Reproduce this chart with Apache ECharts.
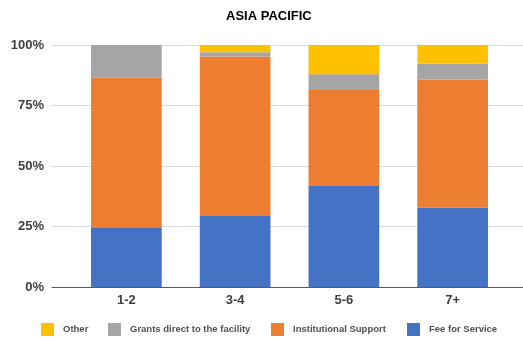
<!DOCTYPE html>
<html>
<head>
<meta charset="utf-8">
<script src="https://cdn.jsdelivr.net/npm/echarts@6/dist/echarts.min.js"></script>
<style>
  html, body { margin: 0; padding: 0; background: #fff; }
  #chart { width: 523px; height: 341px; }
</style>
</head>
<body>
<div id="chart"></div>
<script>
// Funding source share by facility age group
const categories = ['1-2', '3-4', '5-6', '7+'];
const feeForService = [24.7, 29.3, 41.7, 32.9];
const institutionalSupport = [61.8, 65.9, 39.7, 52.8];
const grantsDirect = [13.5, 1.8, 6.5, 6.7];
const other = [0, 3.0, 12.1, 7.6];
const yTicks = [0, 25, 50, 75, 100];

const FONT = '"Liberation Sans", Arial, sans-serif';
const TEXT = '#404040';

const chart = echarts.init(document.getElementById('chart'), null, { renderer: 'canvas' });

function legendAt(name, left) {
  return {
    data: [name],
    left: left,
    top: 323,
    padding: 0,
    itemWidth: 13,
    itemHeight: 13,
    itemGap: 0,
    selectedMode: false,
    icon: 'rect',
    textStyle: { fontFamily: FONT, fontWeight: 'bold', fontSize: 9.5, color: '#505050', padding: [0, 0, 0, 4] }
  };
}

chart.setOption({
  animation: false,
  title: {
    text: 'ASIA PACIFIC',
    left: 226,
    top: 10,
    padding: 0,
    textStyle: { fontFamily: FONT, fontWeight: 'bold', fontSize: 13, color: '#000' }
  },
  legend: [
    legendAt('Other', 41),
    legendAt('Grants direct to the facility', 108),
    legendAt('Institutional Support', 271),
    legendAt('Fee for Service', 407)
  ],
  grid: [
    { left: 52, right: 0, top: 45, bottom: 54 },
    { left: 72, right: 16, top: 45, bottom: 54 }
  ],
  xAxis: [
    {
      gridIndex: 0, type: 'value', min: 0, max: 1,
      axisLine: { show: true, lineStyle: { color: '#595959', width: 1 } },
      axisTick: { show: false }, axisLabel: { show: false }, splitLine: { show: false }
    },
    {
      gridIndex: 1, type: 'category', data: categories,
      axisLine: { show: false }, axisTick: { show: false },
      axisLabel: { fontFamily: FONT, fontWeight: 'bold', fontSize: 13, color: TEXT, margin: 7 }
    }
  ],
  yAxis: [
    {
      gridIndex: 0, type: 'value', min: 0, max: 100, interval: 25,
      axisLine: { show: false }, axisTick: { show: false },
      axisLabel: {
        fontFamily: FONT, fontWeight: 'bold', fontSize: 13, color: TEXT, margin: 8,
        formatter: v => (yTicks.includes(v) ? v + '%' : '')
      },
      splitLine: { lineStyle: { color: '#d9d9d9', width: 1 } }
    },
    {
      gridIndex: 1, type: 'value', min: 0, max: 100, show: false
    }
  ],
  series: [
    { name: 'Fee for Service', type: 'bar', stack: 'total', xAxisIndex: 1, yAxisIndex: 1,
      data: feeForService, barWidth: '65%', itemStyle: { color: '#4472C4' } },
    { name: 'Institutional Support', type: 'bar', stack: 'total', xAxisIndex: 1, yAxisIndex: 1,
      data: institutionalSupport, itemStyle: { color: '#ED7D31' } },
    { name: 'Grants direct to the facility', type: 'bar', stack: 'total', xAxisIndex: 1, yAxisIndex: 1,
      data: grantsDirect, itemStyle: { color: '#A5A5A5' } },
    { name: 'Other', type: 'bar', stack: 'total', xAxisIndex: 1, yAxisIndex: 1,
      data: other, itemStyle: { color: '#FFC000' } }
  ]
});
</script>
</body>
</html>
